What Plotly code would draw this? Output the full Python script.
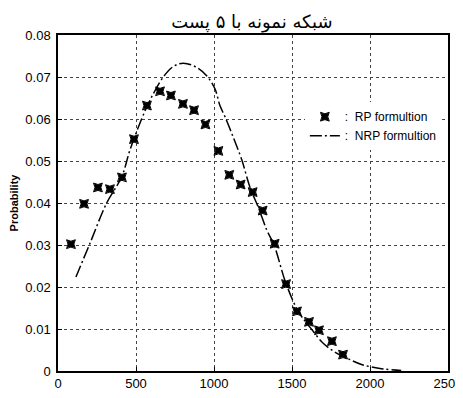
import plotly.graph_objects as go

# RP formulation (star markers)
rp_x = [83, 167, 256, 333, 410, 487, 570, 654, 724, 801, 872, 945, 1028, 1098,
        1171, 1248, 1312, 1389, 1462, 1532, 1609, 1673, 1756, 1827]
rp_y = [0.0302, 0.0398, 0.0437, 0.0433, 0.0461, 0.0552, 0.0632, 0.0666, 0.0656,
        0.0636, 0.0621, 0.0587, 0.0524, 0.0467, 0.0444, 0.0426, 0.0382, 0.0303,
        0.0207, 0.0142, 0.0117, 0.0097, 0.0071, 0.0039]

# NRP formulation (dash-dot curve)
nrp_x = [115, 205, 312, 408, 462, 536, 590, 675, 739, 803, 889, 953, 1006, 1038,
         1071, 1124, 1177, 1231, 1284, 1338, 1385, 1460, 1540, 1620, 1700, 1780,
         1872, 1950, 2083, 2200]
nrp_y = [0.0224, 0.0304, 0.0400, 0.0462, 0.0527, 0.0600, 0.0645, 0.0700, 0.0725,
         0.0733, 0.0723, 0.0703, 0.0672, 0.0632, 0.0605, 0.0556, 0.0504, 0.0437,
         0.0390, 0.0336, 0.0300, 0.0210, 0.0142, 0.0102, 0.0066, 0.0044, 0.0027,
         0.0015, 0.0005, 0.0001]

x_ticks = [0, 500, 1000, 1500, 2000, 2500]
x_tick_labels = ["0", "500", "1000", "1500", "2000", "2500"]
y_ticks = [0, 0.01, 0.02, 0.03, 0.04, 0.05, 0.06, 0.07, 0.08]
y_tick_labels = ["0", "0.01", "0.02", "0.03", "0.04", "0.05", "0.06", "0.07", "0.08"]

title_text = "شبکه نمونه با ۵ پست"
rp_name = ":  RP formultion"
nrp_name = ":  NRP formultion"

fig = go.Figure()
fig.add_trace(go.Scatter(
    x=rp_x, y=rp_y, mode="markers", name=rp_name,
    marker=dict(symbol="star-square", size=8, color="black",
                line=dict(color="black", width=1)),
))
fig.add_trace(go.Scatter(
    x=nrp_x, y=nrp_y, mode="lines", name=nrp_name, line_shape="spline",
    line=dict(color="black", width=1.5, dash="12px,3px,2px,3px", smoothing=1.0),
))

axis_common = dict(
    showline=True, linecolor="black", linewidth=1.5, mirror=True,
    showgrid=True, gridcolor="#444", gridwidth=1, griddash="dot",
    zeroline=False, ticks="inside", ticklen=4, tickcolor="black",
    automargin=False,
    tickfont=dict(family="Liberation Sans, Arial", size=13, color="black"),
)

fig.update_layout(
    width=455, height=390,
    margin=dict(l=50, r=15, t=27, b=27),
    paper_bgcolor="white", plot_bgcolor="white",
    title=dict(text=title_text, x=0.536, xanchor="center", y=0.966, yanchor="middle",
               font=dict(family="DejaVu Sans", size=18, color="black")),
    xaxis=dict(range=[0, 2500], tickvals=x_ticks, ticktext=x_tick_labels, **axis_common),
    yaxis=dict(range=[0, 0.08], tickvals=y_ticks, ticktext=y_tick_labels,
               ticklabelstandoff=3,
               title=dict(text="<b>Probability</b>", standoff=6,
                          font=dict(family="Liberation Sans, Arial", size=11, color="black")),
               **axis_common),
    legend=dict(x=0.633, y=0.80, xanchor="left", yanchor="top",
                bgcolor="rgba(255,255,255,1)", borderwidth=0,
                font=dict(family="Liberation Sans, Arial", size=12, color="black"),
                itemwidth=30, tracegroupgap=0),
    showlegend=True,
)

fig.write_html("out.html")
